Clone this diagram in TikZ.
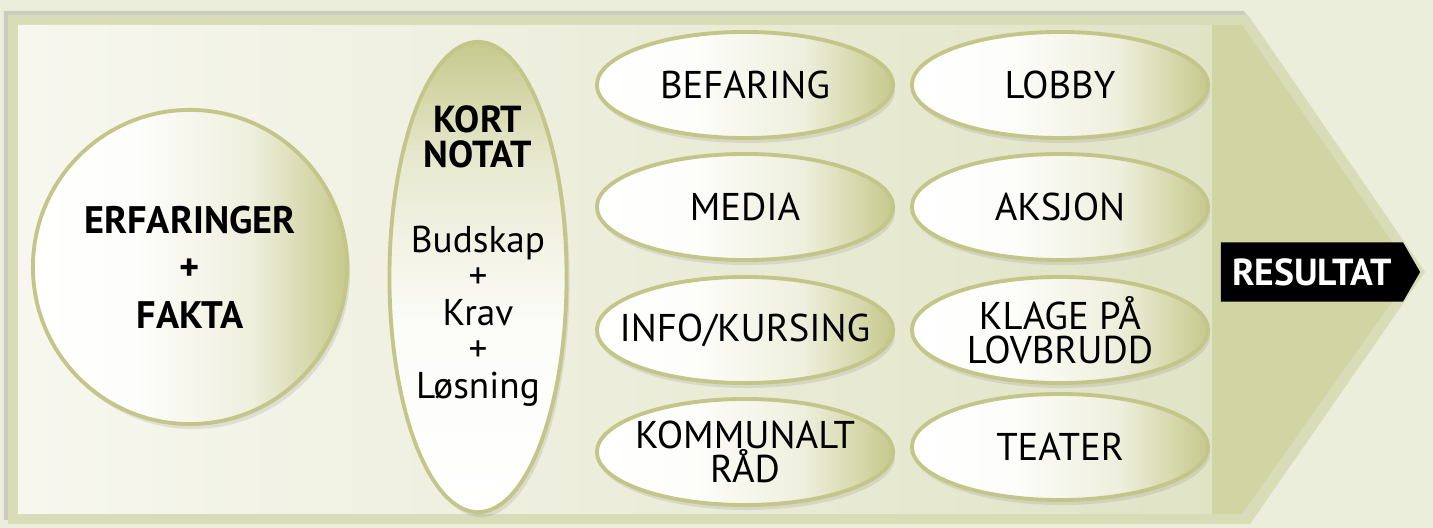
\documentclass[tikz,border=0pt]{standalone}
\usepackage{fontspec}
\setmainfont{PT Sans}
\usetikzlibrary{shapes.geometric,shapes.symbols,shadows}

\definecolor{bgpaper}{HTML}{ECEEDC}
\definecolor{frameband}{HTML}{D8DCB7}
\definecolor{innerleft}{HTML}{F7F7EF}
\definecolor{innerright}{HTML}{DDE0BF}
\definecolor{arrowolive}{HTML}{D1D5A3}
\definecolor{olv}{HTML}{C6C98C}
\definecolor{rim}{HTML}{C3C688}

% fargeforløp for eggene: hvit til venstre, oliven til høyre
\pgfdeclarehorizontalshading{eggh}{100bp}{color(0bp)=(white); color(25bp)=(white); color(42bp)=(white!96!olv); color(60bp)=(white!70!olv); color(75bp)=(olv); color(100bp)=(olv)}
% og for notatet: oliven øverst, hvit nederst
\pgfdeclareverticalshading{eggv}{100bp}{color(0bp)=(white); color(25bp)=(white); color(45bp)=(white!94!olv); color(62bp)=(white!60!olv); color(75bp)=(olv); color(100bp)=(olv)}

\begin{document}
\begin{tikzpicture}[x=0.01cm, y=-0.01cm,
  egg/.style={ellipse, draw=rim, line width=1.1pt, shade, shading=eggh,
    minimum width=2.96cm, minimum height=1.06cm, inner xsep=-1cm, inner ysep=-0.4cm, align=center,
    font=\fontsize{11}{9.8}\selectfont,
    drop shadow={opacity=0.18, shadow xshift=0.02cm, shadow yshift=-0.05cm}}]

% bakgrunn (fast størrelse)
\fill [bgpaper] (0,0) rectangle (1433,528);
\useasboundingbox (0,0) rectangle (1433,528);

% ramma, pil mot høyre
\fill [frameband, drop shadow={opacity=0.3, shadow xshift=-0.04cm, shadow yshift=0.04cm}]
  (8,15) -- (1248,15) -- (1425,272) -- (1250,524) -- (8,524) -- cycle;
\shade [left color=innerleft, right color=innerright]
  (18,25) -- (1242,25) -- (1413,272) -- (1242,514) -- (18,514) -- cycle;
\fill [arrowolive] (1212,25) -- (1242,25) -- (1413,272) -- (1242,514) -- (1212,514) -- cycle;

% sirkel
\node [circle, minimum size=3.14cm, inner sep=0pt, draw=rim, line width=1.1pt, shade, shading=eggh,
  align=center, font=\bfseries\fontsize{10.9}{13.5}\selectfont,
  drop shadow={opacity=0.18, shadow xshift=0.03cm, shadow yshift=-0.05cm}]
  (erf) at (190,267) {ERFARINGER\\+\\FAKTA};

% kort notat
\node [ellipse, minimum width=1.77cm, minimum height=4.70cm, inner sep=0pt, draw=rim, line width=1.1pt,
  shade, shading=eggv, drop shadow={opacity=0.18, shadow xshift=0.03cm, shadow yshift=-0.05cm}]
  (notat) at (478,277) {};
\node [align=center, font=\bfseries\fontsize{10.7}{9.8}\selectfont] (kort) at (478,137) {KORT\\NOTAT};
\node [align=center, font=\fontsize{10.6}{10.4}\selectfont] (budskap) at (478,316) {Budskap\\+\\Krav\\+\\Løsning};

% virkemidler, to kolonner
\node [egg] (befaring) at (745,85)  {BEFARING};
\node [egg] (media)    at (745,207) {MEDIA};
\node [egg] (info)     at (745,330) {INFO/KURSING};
\node [egg] (kommunal) at (745,452) {KOMMUNALT\\RÅD};

\node [egg] (lobby)    at (1060,85)  {LOBBY};
\node [egg] (aksjon)   at (1060,207) {AKSJON};
\node [egg] (klage)    at (1060,330) {KLAGE PÅ\\LOVBRUDD};
\node [egg] (teater)   at (1060,447) {TEATER};

% resultat
\node [signal, signal to=east, signal pointer angle=120, fill=black, text=white,
  font=\bfseries\fontsize{10.7}{12}\selectfont, minimum height=0.59cm, minimum width=1.99cm, inner sep=0pt]
  (res) at (1312,272) {RESULTAT};

\end{tikzpicture}
\end{document}
